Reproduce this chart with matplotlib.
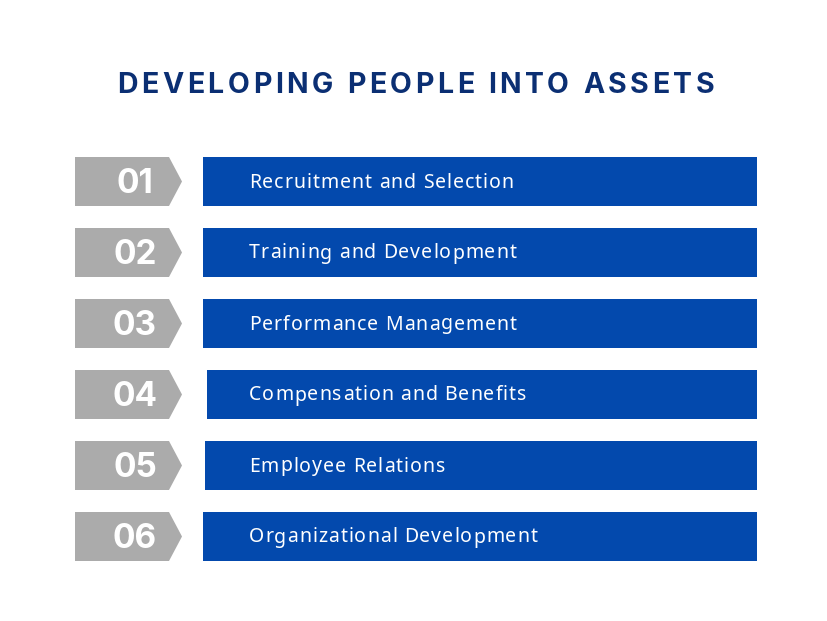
import matplotlib

matplotlib.use("Agg")
import matplotlib.pyplot as plt
from matplotlib.patches import Polygon, Rectangle

# ── Data ──────────────────────────────────────────────────────────────────────
title = "DEVELOPING PEOPLE INTO ASSETS"
numbers = ["01", "02", "03", "04", "05", "06"]
labels = [
    "Recruitment and Selection",
    "Training and Development",
    "Performance Management",
    "Compensation and Benefits",
    "Employee Relations",
    "Organizational Development",
]
bar_left = [203, 203, 203, 207, 205, 203]

W, H = 828, 621
BLUE = "#0349ad"
GRAY = "#ababab"
NAVY = "#0b2f73"

fig = plt.figure(figsize=(W / 100, H / 100), dpi=100)
fig.patch.set_facecolor("white")
ax = fig.add_axes([0, 0, 1, 1])
ax.set_xlim(0, W)
ax.set_ylim(H, 0)
ax.axis("off")
fig.canvas.draw()
renderer = fig.canvas.get_renderer()


def _ink_width(s, props):
    t = ax.text(0, 0, s, **props)
    w = t.get_window_extent(renderer).width
    t.remove()
    return w


def advances(s, props):
    """Per-char advance widths, measured between two bars to skip ink bbox."""
    base = _ink_width("||", props)
    return [_ink_width("|" + ch + "|", props) - base for ch in s]


def spaced_text(s, x, y, props, tracking=None, x_end=None):
    """Letter-spaced text drawn char by char (fixed tracking or fit to x_end)."""
    adv = advances(s, props)
    if x_end is not None:
        last = _ink_width(s[-1], props)
        tracking = (x_end - x - sum(adv[:-1]) - last) / (len(s) - 1)
    for ch, a in zip(s, adv):
        if ch != " ":
            ax.text(x, y, ch, ha="left", **props)
        x += a + tracking


row_top, row_step, row_h = 157, 71, 49

for i, (num, lab) in enumerate(zip(numbers, labels)):
    y0 = row_top + i * row_step
    y1 = y0 + row_h
    ym = (y0 + y1) / 2
    arrow = Polygon(
        [(75, y0), (169, y0), (182, ym), (169, y1), (75, y1)],
        closed=True,
        facecolor=GRAY,
        edgecolor="none",
    )
    ax.add_patch(arrow)
    ax.text(
        135, ym + 11.5, num, color="white", fontsize=24, fontweight="bold",
        family="Inter", ha="center", va="baseline",
    )
    ax.add_patch(
        Rectangle((bar_left[i], y0), 757 - bar_left[i], row_h,
                  facecolor=BLUE, edgecolor="none")
    )
    spaced_text(
        lab, 249, ym + 6,
        dict(color="white", fontsize=14, family="Noto Sans", va="baseline"),
        tracking=1.0,
    )

spaced_text(
    title, 117, 93,
    dict(color=NAVY, fontsize=20.5, fontweight="bold", family="Inter",
         va="baseline"),
    x_end=714,
)

fig.savefig("out.png", dpi=100)
